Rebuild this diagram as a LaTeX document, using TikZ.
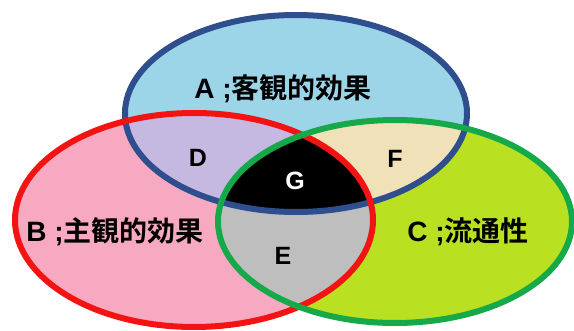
\documentclass[tikz,border=0pt]{standalone}
\usepackage{fontspec}
\newfontfamily\cjk{Noto Sans CJK JP Bold}
\newfontfamily\lat{Liberation Sans Bold}
\definecolor{fillA}{HTML}{9DD5E8}
\definecolor{fillB}{HTML}{F6A9C1}
\definecolor{fillC}{HTML}{B9E021}
\definecolor{fillD}{HTML}{C6B9E1}
\definecolor{fillF}{HTML}{F0E1B9}
\definecolor{fillE}{HTML}{BEBEBE}
\definecolor{lineA}{HTML}{2E4E8E}
\definecolor{lineB}{HTML}{F41313}
\definecolor{lineC}{HTML}{16A94A}
\tikzset{
  rim/.style={line width=6pt},
  big/.style={font=\fontsize{28}{30}\selectfont, text=black, inner sep=0pt},
  letter/.style={font=\lat\fontsize{25}{27}\selectfont, inner sep=0pt}
}
\def\ellA{(296,113.5) ellipse [x radius=171pt, y radius=98.5pt]}
\def\ellB{(194,220) ellipse [x radius=179pt, y radius=107pt]}
\def\ellC{(395,221.5) ellipse [x radius=177pt, y radius=101.5pt]}
\begin{document}
\begin{tikzpicture}[x=1pt,y=-1pt]
\useasboundingbox (0,0) rectangle (574,331);
\fill[white] (0,0) rectangle (574,331);
\fill[fillB] \ellB;
\fill[fillC] \ellC;
\fill[fillA] \ellA;
\begin{scope}
  \clip \ellA;
  \fill[fillD] \ellB;
  \fill[fillF] \ellC;
\end{scope}
\begin{scope}
  \clip \ellB;
  \fill[fillE] \ellC;
  \clip \ellA;
  \fill[black] \ellC;
\end{scope}
\draw[rim, lineA] \ellA;
\draw[rim, lineB] \ellB;
\draw[rim, lineC] \ellC;
\node[big] (la) at (283,89) {{\lat A ;}{\cjk 客観的効果}};
\node[big] (lb) at (115,232) {{\lat B ;}{\cjk 主観的効果}};
\node[big] (lc) at (468,232) {{\lat C ;}{\cjk 流通性}};
\node[letter] (ld) at (198,158) {D};
\node[letter] (lf) at (395,159) {F};
\node[letter, text=white] (lg) at (295,181) {G};
\node[letter] (le) at (283,256) {E};
\end{tikzpicture}
\end{document}
